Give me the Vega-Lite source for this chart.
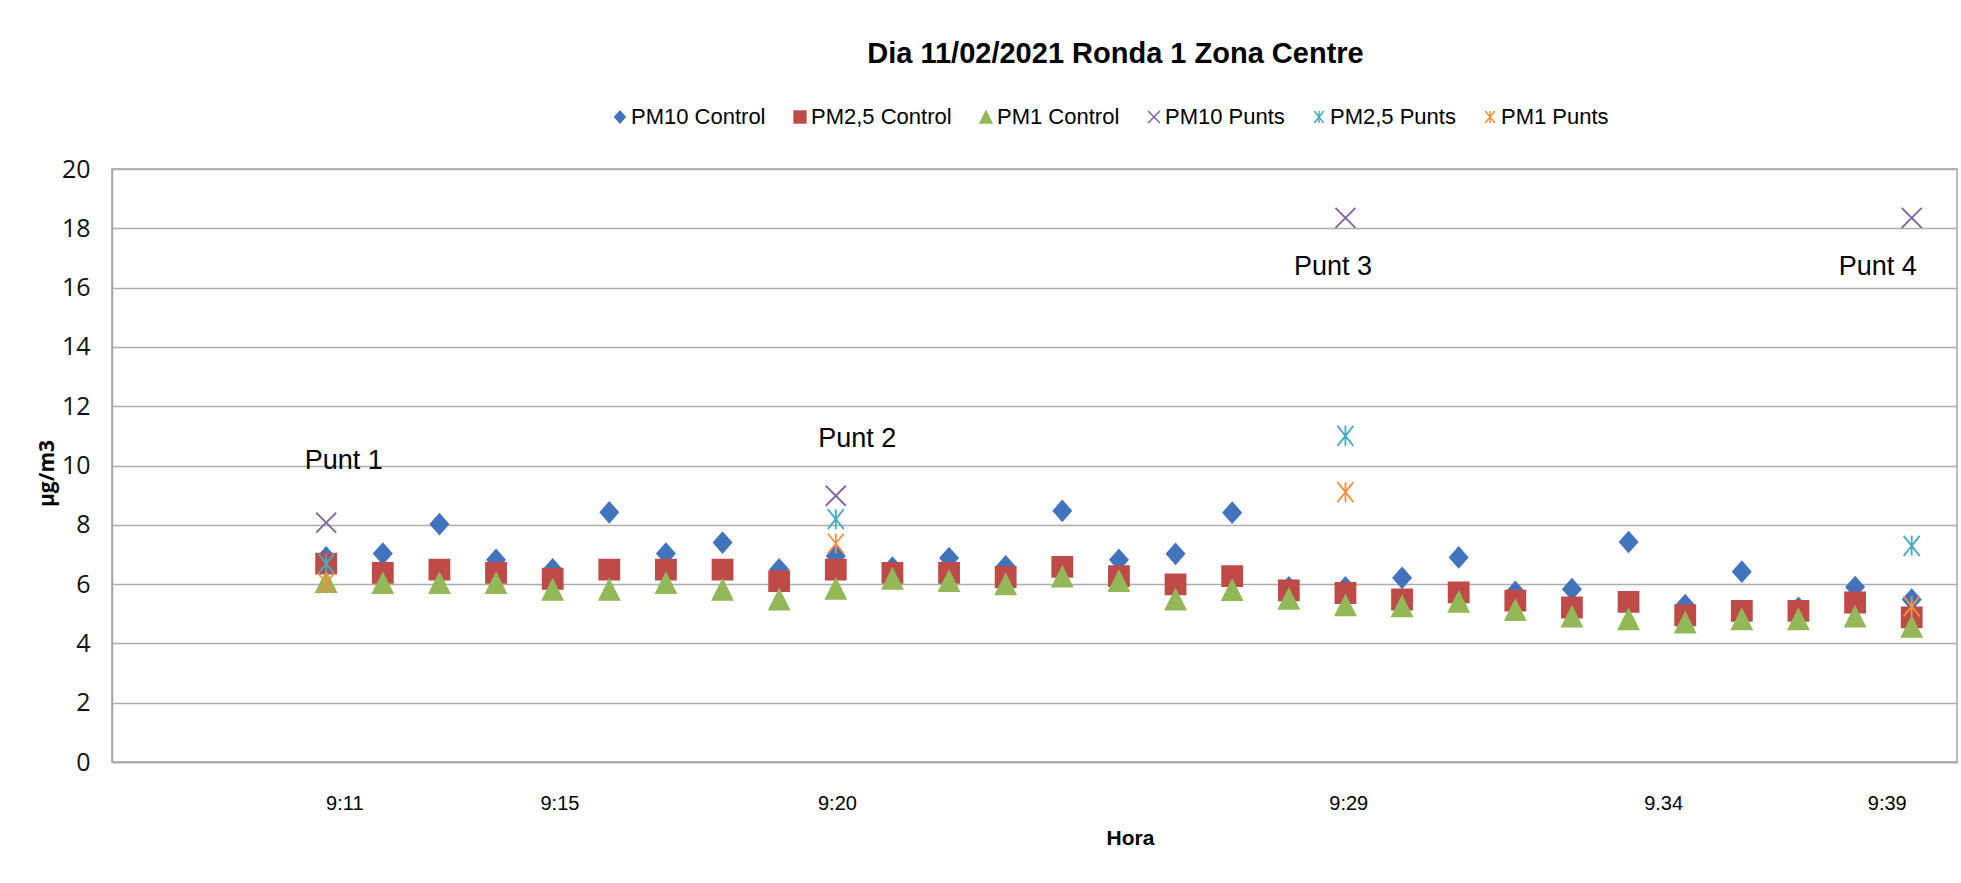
{
  "$schema": "https://vega.github.io/schema/vega-lite/v6.json",
  "width": 1845,
  "height": 593,
  "autosize": {"type": "none"},
  "padding": {"top": 169, "left": 112, "right": 4, "bottom": 121},
  "background": "white",
  "title": {
    "text": "Dia 11/02/2021 Ronda 1 Zona Centre",
    "font": "Liberation Sans",
    "fontWeight": "bold",
    "fontSize": 29,
    "color": "#000000",
    "anchor": "middle",
    "frame": "group",
    "dx": 81,
    "offset": 37
  },
  "config": {
    "view": {"stroke": "#A6A6A6", "strokeWidth": 1.5}
  },
  "encoding": {
    "x": {
      "field": "minute",
      "type": "quantitative",
      "scale": {"domain": [7.218, 39.8], "nice": false, "zero": false},
      "axis": {
        "title": "Hora",
        "values": [11.32, 15.12, 20.02, 29.05, 34.61, 38.56],
        "labelExpr": "datum.value < 13 ? '9:11' : datum.value < 17 ? '9:15' : datum.value < 25 ? '9:20' : datum.value < 32 ? '9:29' : datum.value < 36 ? '9.34' : '9:39'",
        "grid": false,
        "ticks": false,
        "tickSize": 0,
        "labelPadding": 41,
        "labelBaseline": "middle",
        "labelFont": "Liberation Sans",
        "labelFontSize": 20,
        "labelColor": "#000000",
        "labelFlush": false,
        "labelOverlap": false,
        "labelBound": false,
        "domainColor": "#A6A6A6",
        "domainWidth": 1.5,
        "titleFont": "Liberation Sans",
        "titleFontWeight": "bold",
        "titleFontSize": 21,
        "titleColor": "#000000",
        "titleX": 1018,
        "titleY": 76,
        "titleBaseline": "middle",
        "titleAnchor": "start",
        "titleAlign": "center"
      }
    },
    "y": {
      "field": "value",
      "type": "quantitative",
      "scale": {"domain": [0, 20], "nice": false},
      "axis": {
        "title": "µg/m3",
        "values": [0, 2, 4, 6, 8, 10, 12, 14, 16, 18, 20],
        "grid": true,
        "gridColor": "#ADADAD",
        "gridWidth": 1.5,
        "ticks": false,
        "tickSize": 0,
        "labelPadding": 22,
        "labelFont": "Open Sans",
        "labelFontSize": 25,
        "labelColor": "#111111",
        "labelFlush": false,
        "labelBound": false,
        "domainColor": "#A6A6A6",
        "domainWidth": 1.5,
        "titleFont": "Open Sans",
        "titleFontWeight": "bold",
        "titleFontSize": 21,
        "titleColor": "#000000",
        "titleX": -65,
        "titleY": 304,
        "titleBaseline": "middle"
      }
    }
  },
  "layer": [
    {
      "data": {
        "values": [
          {"minute": 11, "value": 6.9, "series": "PM10 Control"},
          {"minute": 12, "value": 7.03, "series": "PM10 Control"},
          {"minute": 13, "value": 8.02, "series": "PM10 Control"},
          {"minute": 14, "value": 6.82, "series": "PM10 Control"},
          {"minute": 15, "value": 6.5, "series": "PM10 Control"},
          {"minute": 16, "value": 8.42, "series": "PM10 Control"},
          {"minute": 17, "value": 7.03, "series": "PM10 Control"},
          {"minute": 18, "value": 7.4, "series": "PM10 Control"},
          {"minute": 19, "value": 6.5, "series": "PM10 Control"},
          {"minute": 20, "value": 6.95, "series": "PM10 Control"},
          {"minute": 21, "value": 6.56, "series": "PM10 Control"},
          {"minute": 22, "value": 6.88, "series": "PM10 Control"},
          {"minute": 23, "value": 6.6, "series": "PM10 Control"},
          {"minute": 24, "value": 8.47, "series": "PM10 Control"},
          {"minute": 25, "value": 6.82, "series": "PM10 Control"},
          {"minute": 26, "value": 7.02, "series": "PM10 Control"},
          {"minute": 27, "value": 8.41, "series": "PM10 Control"},
          {"minute": 28, "value": 5.89, "series": "PM10 Control"},
          {"minute": 29, "value": 5.89, "series": "PM10 Control"},
          {"minute": 30, "value": 6.21, "series": "PM10 Control"},
          {"minute": 31, "value": 6.9, "series": "PM10 Control"},
          {"minute": 32, "value": 5.74, "series": "PM10 Control"},
          {"minute": 33, "value": 5.83, "series": "PM10 Control"},
          {"minute": 34, "value": 7.42, "series": "PM10 Control"},
          {"minute": 35, "value": 5.29, "series": "PM10 Control"},
          {"minute": 36, "value": 6.42, "series": "PM10 Control"},
          {"minute": 37, "value": 5.2, "series": "PM10 Control"},
          {"minute": 38, "value": 5.9, "series": "PM10 Control"},
          {"minute": 39, "value": 5.48, "series": "PM10 Control"},
          {"minute": 11, "value": 6.69, "series": "PM2,5 Control"},
          {"minute": 12, "value": 6.38, "series": "PM2,5 Control"},
          {"minute": 13, "value": 6.49, "series": "PM2,5 Control"},
          {"minute": 14, "value": 6.38, "series": "PM2,5 Control"},
          {"minute": 15, "value": 6.18, "series": "PM2,5 Control"},
          {"minute": 16, "value": 6.49, "series": "PM2,5 Control"},
          {"minute": 17, "value": 6.49, "series": "PM2,5 Control"},
          {"minute": 18, "value": 6.49, "series": "PM2,5 Control"},
          {"minute": 19, "value": 6.1, "series": "PM2,5 Control"},
          {"minute": 20, "value": 6.49, "series": "PM2,5 Control"},
          {"minute": 21, "value": 6.38, "series": "PM2,5 Control"},
          {"minute": 22, "value": 6.38, "series": "PM2,5 Control"},
          {"minute": 23, "value": 6.24, "series": "PM2,5 Control"},
          {"minute": 24, "value": 6.58, "series": "PM2,5 Control"},
          {"minute": 25, "value": 6.27, "series": "PM2,5 Control"},
          {"minute": 26, "value": 5.99, "series": "PM2,5 Control"},
          {"minute": 27, "value": 6.27, "series": "PM2,5 Control"},
          {"minute": 28, "value": 5.79, "series": "PM2,5 Control"},
          {"minute": 29, "value": 5.7, "series": "PM2,5 Control"},
          {"minute": 30, "value": 5.48, "series": "PM2,5 Control"},
          {"minute": 31, "value": 5.72, "series": "PM2,5 Control"},
          {"minute": 32, "value": 5.44, "series": "PM2,5 Control"},
          {"minute": 33, "value": 5.21, "series": "PM2,5 Control"},
          {"minute": 34, "value": 5.4, "series": "PM2,5 Control"},
          {"minute": 35, "value": 4.95, "series": "PM2,5 Control"},
          {"minute": 36, "value": 5.1, "series": "PM2,5 Control"},
          {"minute": 37, "value": 5.1, "series": "PM2,5 Control"},
          {"minute": 38, "value": 5.38, "series": "PM2,5 Control"},
          {"minute": 39, "value": 4.88, "series": "PM2,5 Control"},
          {"minute": 11, "value": 6.07, "series": "PM1 Control"},
          {"minute": 12, "value": 6.03, "series": "PM1 Control"},
          {"minute": 13, "value": 6.03, "series": "PM1 Control"},
          {"minute": 14, "value": 6.03, "series": "PM1 Control"},
          {"minute": 15, "value": 5.81, "series": "PM1 Control"},
          {"minute": 16, "value": 5.81, "series": "PM1 Control"},
          {"minute": 17, "value": 6.03, "series": "PM1 Control"},
          {"minute": 18, "value": 5.81, "series": "PM1 Control"},
          {"minute": 19, "value": 5.48, "series": "PM1 Control"},
          {"minute": 20, "value": 5.84, "series": "PM1 Control"},
          {"minute": 21, "value": 6.18, "series": "PM1 Control"},
          {"minute": 22, "value": 6.1, "series": "PM1 Control"},
          {"minute": 23, "value": 5.99, "series": "PM1 Control"},
          {"minute": 24, "value": 6.25, "series": "PM1 Control"},
          {"minute": 25, "value": 6.1, "series": "PM1 Control"},
          {"minute": 26, "value": 5.48, "series": "PM1 Control"},
          {"minute": 27, "value": 5.8, "series": "PM1 Control"},
          {"minute": 28, "value": 5.5, "series": "PM1 Control"},
          {"minute": 29, "value": 5.28, "series": "PM1 Control"},
          {"minute": 30, "value": 5.25, "series": "PM1 Control"},
          {"minute": 31, "value": 5.4, "series": "PM1 Control"},
          {"minute": 32, "value": 5.12, "series": "PM1 Control"},
          {"minute": 33, "value": 4.9, "series": "PM1 Control"},
          {"minute": 34, "value": 4.81, "series": "PM1 Control"},
          {"minute": 35, "value": 4.7, "series": "PM1 Control"},
          {"minute": 36, "value": 4.81, "series": "PM1 Control"},
          {"minute": 37, "value": 4.81, "series": "PM1 Control"},
          {"minute": 38, "value": 4.9, "series": "PM1 Control"},
          {"minute": 39, "value": 4.56, "series": "PM1 Control"},
          {"minute": 11, "value": 8.07, "series": "PM10 Punts"},
          {"minute": 20, "value": 8.98, "series": "PM10 Punts"},
          {"minute": 29, "value": 18.35, "series": "PM10 Punts"},
          {"minute": 39, "value": 18.35, "series": "PM10 Punts"},
          {"minute": 11, "value": 6.69, "series": "PM2,5 Punts"},
          {"minute": 20, "value": 8.19, "series": "PM2,5 Punts"},
          {"minute": 29, "value": 11.0, "series": "PM2,5 Punts"},
          {"minute": 39, "value": 7.29, "series": "PM2,5 Punts"},
          {"minute": 11, "value": 6.03, "series": "PM1 Punts"},
          {"minute": 20, "value": 7.37, "series": "PM1 Punts"},
          {"minute": 29, "value": 9.1, "series": "PM1 Punts"},
          {"minute": 39, "value": 5.25, "series": "PM1 Punts"}
        ]
      },
      "mark": {"type": "point", "filled": true, "opacity": 1, "strokeWidth": 1.8, "size": 400},
      "encoding": {
        "fill": {
          "field": "series",
          "type": "nominal",
          "sort": null,
          "scale": {
            "domain": ["PM10 Control", "PM2,5 Control", "PM1 Control", "PM10 Punts", "PM2,5 Punts", "PM1 Punts"],
            "range": ["#4274BE", "#BE4B48", "#93B857", "#7D61A0", "#47AAC4", "#F39140"]
          },
          "legend": {
            "title": null,
            "orient": "none",
            "direction": "horizontal",
            "legendX": 497,
            "legendY": -63,
            "padding": 0,
            "labelFont": "Liberation Sans",
            "labelFontSize": 22,
            "labelColor": "#000000",
            "labelOffset": 0,
            "columnPadding": 23,
            "symbolSize": 140,
            "symbolStrokeWidth": 1.5
          }
        },
        "stroke": {
          "field": "series",
          "type": "nominal",
          "sort": null,
          "scale": {
            "domain": ["PM10 Control", "PM2,5 Control", "PM1 Control", "PM10 Punts", "PM2,5 Punts", "PM1 Punts"],
            "range": ["#4274BE", "#BE4B48", "#93B857", "#7D61A0", "#47AAC4", "#F39140"]
          },
          "legend": {
            "title": null,
            "orient": "none",
            "direction": "horizontal",
            "legendX": 497,
            "legendY": -63,
            "padding": 0,
            "labelFont": "Liberation Sans",
            "labelFontSize": 22,
            "labelColor": "#000000",
            "labelOffset": 0,
            "columnPadding": 23,
            "symbolSize": 140,
            "symbolStrokeWidth": 1.5
          }
        },
        "shape": {
          "field": "series",
          "type": "nominal",
          "sort": null,
          "scale": {
            "domain": ["PM10 Control", "PM2,5 Control", "PM1 Control", "PM10 Punts", "PM2,5 Punts", "PM1 Punts"],
            "range": [
              "M-0.88,0L0,-1L0.88,0L0,1Z",
              "square",
              "M0,-1L1,1L-1,1Z",
              "M-1,-1L1,1M-1,1L1,-1",
              "M-0.8,-1L0.8,1M-0.8,1L0.8,-1M0,-1L0,1",
              "M-0.8,-1L0.8,1M-0.8,1L0.8,-1M0,-1L0,1"
            ]
          },
          "legend": {
            "title": null,
            "orient": "none",
            "direction": "horizontal",
            "legendX": 497,
            "legendY": -63,
            "padding": 0,
            "labelFont": "Liberation Sans",
            "labelFontSize": 22,
            "labelColor": "#000000",
            "labelOffset": 0,
            "columnPadding": 23,
            "symbolSize": 140,
            "symbolStrokeWidth": 1.5
          }
        }
      }
    },
    {
      "data": {
        "values": [
          {"minute": 11.31, "value": 9.87, "label": "Punt 1"},
          {"minute": 20.38, "value": 10.61, "label": "Punt 2"},
          {"minute": 28.78, "value": 16.44, "label": "Punt 3"},
          {"minute": 38.4, "value": 16.44, "label": "Punt 4"}
        ]
      },
      "mark": {"type": "text", "align": "center", "baseline": "alphabetic", "font": "Liberation Sans", "fontSize": 27, "color": "#000000"},
      "encoding": {
        "text": {"field": "label", "type": "nominal"}
      }
    }
  ]
}
